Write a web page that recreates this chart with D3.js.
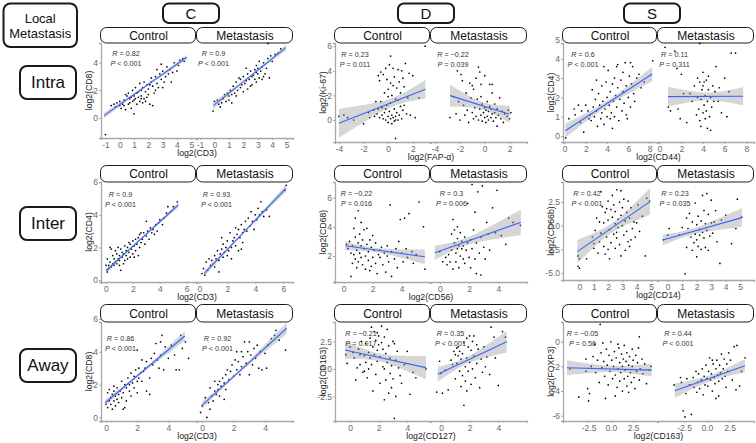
<!DOCTYPE html>
<html><head><meta charset="utf-8">
<script src="https://cdn.jsdelivr.net/npm/d3@7"></script>
<style>body{margin:0;background:#fff}svg{display:block;font-family:"Liberation Sans",Arial,Helvetica,sans-serif}</style>
</head><body><svg id="c" width="756" height="443"></svg>
<script>
// ---------------- DATA ----------------
const cornerLabel = ["Local", "Metastasis"];
const colLabels = ["C", "D", "S"];
const rowLabels = ["Intra", "Inter", "Away"];
const facetLabels = ["Control", "Metastasis"];
const xTitles = [["log2(CD3)", "log2(FAP-α)", "log2(CD44)"], ["log2(CD3)", "log2(CD56)", "log2(CD14)"], ["log2(CD3)", "log2(CD127)", "log2(CD163)"]];
const yTitles = [["log2(CD8)", "log2(Ki-67)", "log2(CD4)"], ["log2(CD4)", "log2(CD68)", "log2(CD66b)"], ["log2(CD8)", "log2(CD163)", "log2(FOXP3)"]];
// R and P labels [control, metastasis]
const statR = [[["0.82","0.9"],["0.23","−0.22"],["0.6","0.11"]],[["0.9","0.93"],["−0.22","0.3"],["0.42","0.23"]],[["0.86","0.92"],["−0.21","0.35"],["−0.05","0.44"]]];
const statP = [[["< 0.001","< 0.001"],["= 0.011","= 0.039"],["< 0.001","= 0.311"]],[["< 0.001","< 0.001"],["= 0.016","= 0.006"],["< 0.001","= 0.035"]],[["< 0.001","< 0.001"],["= 0.017","< 0.001"],["= 0.56","< 0.001"]]];
// tick values
const xTicks = [[[-1,0,1,2,3,4,5],[-4,-2,0,2],[0,2,4,6,8]],[[0,2,4,6],[0,2,4],[0,1,2,3,4,5]],[[0,2,4],[0,2,4],[-2.5,0,2.5]]];
const yTicks = [[[0,2,4],[0,2,4,6],[0,1,2,3,4,5]],[[0,2,4,6],[2,4,6],[-5,-2.5,0,2.5]],[[0,2,4,6],[-2.5,0,2.5],[-6,-4,-2,0]]];
const tickFmt = [[["d","d"],["d","d"],["d","d"]],[["d","d"],["d","d"],["d",".1f"]],[["d","d"],["d",".1f"],[".1f","d"]]]; // [x,y]
// axis domains (x: [control, metastasis])
const xDomains = [[[[-1.31,5.33],[-1.21,5.44]],[[-4.32,3.4],[-4.32,3.4]],[[-0.15,8.7],[-0.15,8.7]]],
                  [[[-0.37,6.69],[-0.16,6.69]],[[-0.6,5.95],[-0.6,5.95]],[[-1.15,5.42],[-0.67,5.95]]],
                  [[[-0.33,5.78],[-0.33,5.78]],[[-1.05,5.59],[-0.7,6.01]],[[-5.37,5.18],[-5.37,5.18]]]];
const yDomains = [[[-1.45,5.43],[-1.79,6.26],[-0.31,4.82]],[[-0.12,6.01],[0.22,7.07],[-5.75,4.62]],[[-0.22,5.81],[-4.73,4.27],[-6.43,1.6]]];

// scatter points
const ptsC1c = [[-1.0,-1.2],[-0.6,0.9],[-0.4,1.0],[-0.3,0.8],[-0.2,1.1],[0,0.9],[0.1,0.7],[0,1.2],[0.2,1.0],[0.3,1.3],[0.4,0.6],[0.5,1.6],[0.4,1.7],[0.6,1.0],[0.7,1.4],[0.8,1.5],[0.9,1.2],[1.0,1.6],[1.0,0.3],[1.1,1.4],[1.2,1.8],[1.3,1.5],[1.4,1.2],[1.5,2.0],[1.5,1.6],[1.6,2.2],[1.7,1.4],[1.8,1.9],[1.9,2.4],[2.0,1.7],[2.0,2.1],[2.1,1.0],[2.2,2.6],[2.3,2.3],[2.4,1.8],[2.5,3.0],[2.6,2.5],[2.7,2.2],[2.8,3.2],[2.9,2.8],[3.0,3.4],[3.1,2.6],[3.2,3.0],[3.3,3.7],[3.5,3.5],[3.6,2.6],[3.8,4.0],[4.0,3.4],[4.2,4.2],[4.4,4.3],[4.5,4.1],[1.2,1.0],[0.8,0.7],[1.6,1.1],[2.3,0.9],[1.1,2.2],[1.9,1.5],[1.4,2.5],[0.3,0.9],[0.9,2.0],[2.6,3.5],[3.0,2.2],[2.2,2.9],[1.7,2.6],[3.4,3.2],[0.6,1.8],[1.3,1.9],[1.8,1.2],[2.5,2.0],[4.1,3.8],[3.7,3.3],[2.9,3.9],[1.0,1.3],[1.5,1.4],[2.1,2.4],[0.7,1.1]];
const ptsC1m = [[-0.1,0.5],[0,1.2],[0.2,1.3],[0.3,1.0],[0.4,0.8],[0.5,1.1],[0.6,1.4],[0.8,1.2],[0.9,1.8],[1.0,1.3],[1.0,1.6],[1.1,2.0],[1.2,1.1],[1.3,2.3],[1.4,1.8],[1.5,2.6],[1.6,2.0],[1.7,2.9],[1.8,2.2],[1.9,2.4],[2.0,1.9],[2.0,3.0],[2.1,2.5],[2.2,2.7],[2.3,3.2],[2.3,2.1],[2.4,2.8],[2.5,3.4],[2.6,3.0],[2.6,2.4],[2.7,3.1],[2.8,3.5],[2.8,2.8],[2.9,3.3],[2.9,3.8],[3.0,3.2],[3.0,3.6],[3.1,2.9],[3.1,4.1],[3.2,3.4],[3.3,3.7],[3.3,2.8],[3.4,4.0],[3.5,3.2],[3.6,3.6],[3.7,4.3],[3.8,2.9],[3.9,4.5],[4.0,4.1],[4.2,4.6],[4.4,4.7],[4.6,5.0],[3.7,5.4],[1.5,1.6],[2.2,3.6],[1.8,2.8],[0.7,1.7],[2.5,2.3],[3.4,3.0],[2.9,2.6],[1.2,1.7]];
const ptsD1c = [[-4.0,0.3],[-3.6,0.4],[-3.3,0.2],[-2.8,0.0],[-2.0,-0.3],[-1.6,0.6],[-1.5,0.2],[-1.2,0.8],[-1.1,0.3],[-1.0,1.5],[-0.9,0.5],[-0.8,0.9],[-0.8,3.6],[-0.7,0.2],[-0.6,1.5],[-0.6,3.9],[-0.5,0.4],[-0.5,1.0],[-0.4,3.7],[-0.4,0.1],[-0.3,2.2],[-0.3,0.6],[-0.2,4.2],[-0.2,0.0],[-0.1,1.2],[-0.1,3.3],[0.0,0.3],[0.0,-0.2],[0.0,2.5],[0.1,0.7],[0.1,4.5],[0.2,0.1],[0.2,1.4],[0.2,3.0],[0.3,-0.3],[0.3,0.4],[0.3,2.0],[0.4,0.2],[0.4,4.2],[0.5,0.9],[0.5,-0.1],[0.5,3.5],[0.6,0.3],[0.6,1.7],[0.6,-1.5],[0.7,0.6],[0.7,2.6],[0.8,4.1],[0.8,0.0],[0.8,1.6],[0.9,3.1],[0.9,0.4],[1.0,1.1],[1.0,2.2],[1.1,0.1],[1.2,3.4],[1.2,0.8],[1.3,2.7],[1.4,4.6],[1.5,0.5],[1.6,1.8],[1.7,3.8],[1.8,0.4],[2.0,3.6],[2.2,0.2],[2.5,1.8],[3.0,6.0],[0.0,1.9],[-0.7,3.2],[0.4,2.8],[1.1,4.0],[0.2,5.2],[-0.2,0.9],[0.6,0.0],[1.3,1.2]];
const ptsD1m = [[-2.8,0.2],[-2.5,1.9],[-2.3,0.5],[-2.2,4.0],[-2.1,1.5],[-2.0,0.0],[-1.9,3.7],[-1.8,3.2],[-1.7,1.2],[-1.6,0.4],[-1.5,2.2],[-1.4,0.8],[-1.3,-0.2],[-1.2,3.0],[-1.1,1.8],[-1.0,0.6],[-0.9,2.5],[-0.9,0.1],[-0.8,1.0],[-0.7,3.4],[-0.7,0.3],[-0.6,1.7],[-0.5,4.3],[-0.5,0.0],[-0.4,3.9],[-0.4,0.9],[-0.3,2.9],[-0.3,0.4],[-0.2,1.3],[-0.2,-0.1],[-0.1,0.6],[0.0,0.2],[0.0,1.0],[0.0,3.6],[0.1,0.8],[0.1,-0.2],[0.2,0.3],[0.2,1.5],[0.3,0.7],[0.3,0.0],[0.4,1.1],[0.4,2.9],[0.5,0.2],[0.5,0.9],[0.6,0.5],[0.6,2.2],[0.7,-0.1],[0.8,0.6],[0.8,1.3],[0.9,0.2],[1.0,0.9],[1.0,-0.5],[1.1,0.4],[1.2,1.8],[1.3,0.1],[1.4,0.7],[1.5,-0.2],[1.6,0.5],[1.8,0.3],[1.9,0.8],[2.0,0.1],[2.1,0.6],[-1.0,2.8],[0.6,2.9],[-0.3,1.9]];
const ptsS1c = [[0.1,-0.1],[0.4,0.9],[0.9,1.4],[1.0,1.1],[1.3,1.6],[1.5,0.7],[1.8,0.2],[2.0,1.6],[2.2,1.3],[2.4,1.1],[2.5,0.8],[2.6,2.4],[2.7,1.5],[2.8,1.0],[2.9,1.9],[3.0,1.3],[3.1,0.5],[3.2,2.2],[3.3,1.6],[3.4,0.9],[3.5,1.2],[3.5,2.6],[3.6,1.8],[3.7,0.6],[3.8,1.4],[3.9,2.8],[4.0,1.0],[4.0,2.0],[4.1,3.4],[4.2,1.6],[4.3,0.9],[4.3,2.3],[4.4,1.2],[4.5,2.7],[4.5,0.4],[4.6,1.8],[4.7,3.0],[4.7,1.0],[4.8,2.1],[4.9,1.5],[5.0,3.7],[5.0,2.5],[5.1,0.8],[5.2,1.9],[5.3,2.9],[5.4,1.3],[5.5,2.3],[5.5,3.3],[5.6,1.7],[5.7,3.8],[5.8,2.6],[5.9,0.9],[6.0,2.0],[6.1,3.1],[6.2,1.5],[6.3,2.7],[6.4,3.6],[6.5,2.2],[6.6,1.8],[6.8,3.0],[7.0,3.2],[7.2,2.5],[7.5,2.8],[8.3,3.9],[3.7,3.6],[4.9,3.6],[2.3,0.9],[5.8,1.1],[6.2,3.8],[1.6,1.3],[3.0,2.9]];
const ptsS1m = [[0.5,4.6],[0.8,1.5],[1.0,1.3],[1.4,4.4],[1.6,3.5],[1.7,1.4],[1.9,0.9],[2.0,3.2],[2.2,2.2],[2.5,0.7],[2.8,2.2],[3.0,1.8],[3.2,2.6],[3.4,1.1],[3.5,3.0],[3.5,2.0],[3.6,1.4],[3.7,0.8],[3.7,2.8],[3.8,1.9],[3.8,0.5],[3.9,2.4],[4.0,1.2],[4.0,3.3],[4.1,2.8],[4.1,1.6],[4.2,0.9],[4.2,2.1],[4.3,2.9],[4.3,1.3],[4.4,0.4],[4.4,1.8],[4.5,2.4],[4.5,3.1],[4.6,1.0],[4.7,2.0],[4.7,0.3],[4.8,1.5],[4.9,2.6],[5.0,1.8],[5.1,2.3],[5.2,3.6],[5.4,1.8],[5.5,2.5],[5.7,1.2],[6.0,3.0],[6.2,1.0],[6.4,2.3],[6.6,4.3],[7.0,4.3],[3.7,4.8],[4.0,2.6]];
const ptsC2c = [[0.0,0.9],[0.1,0.5],[0.1,1.3],[0.2,0.7],[0.2,0.9],[0.3,2.0],[0.3,1.1],[0.4,0.8],[0.5,1.5],[0.5,1.0],[0.6,0.9],[0.6,1.3],[0.7,1.8],[0.7,1.1],[0.8,1.6],[0.8,1.0],[0.9,1.3],[0.9,2.0],[1.0,1.5],[1.0,1.2],[1.1,1.9],[1.1,0.6],[1.2,1.4],[1.2,1.7],[1.3,1.6],[1.4,1.2],[1.4,2.1],[1.5,1.8],[1.5,1.5],[1.6,1.3],[1.6,2.0],[1.7,1.7],[1.8,1.4],[1.8,2.2],[1.9,1.9],[2.0,2.4],[2.0,1.6],[2.1,2.1],[2.2,2.5],[2.2,1.8],[2.3,2.2],[2.4,2.6],[2.5,2.0],[2.5,2.8],[2.6,2.3],[2.7,2.5],[2.8,2.9],[2.9,2.2],[3.0,2.7],[3.1,3.0],[3.2,2.5],[3.3,3.2],[3.4,2.9],[3.5,3.1],[3.6,2.8],[3.7,3.4],[3.8,3.0],[3.9,3.5],[4.0,3.7],[4.2,3.4],[4.3,3.8],[4.5,4.1],[4.6,4.5],[4.8,4.2],[5.0,4.5],[5.3,4.8],[1.3,1.0],[2.4,1.5],[0.4,1.9],[1.7,2.3],[2.6,2.9],[3.0,3.6],[1.0,0.9],[2.1,1.4]];
const ptsC2m = [[0.2,0.4],[0.3,0.7],[0.4,0.3],[0.5,1.1],[0.6,0.6],[0.7,1.3],[0.8,0.9],[0.9,1.2],[1.0,1.0],[1.1,1.5],[1.2,1.3],[1.3,1.8],[1.4,1.2],[1.4,0.5],[1.5,1.6],[1.6,1.9],[1.7,1.4],[1.7,2.2],[1.8,1.7],[1.9,2.0],[2.0,1.5],[2.0,2.4],[2.1,1.8],[2.2,2.9],[2.3,2.0],[2.3,1.3],[2.4,2.4],[2.5,2.6],[2.6,2.1],[2.7,2.8],[2.8,1.8],[2.8,3.1],[2.9,2.6],[3.0,3.4],[3.1,2.9],[3.1,2.3],[3.2,3.1],[3.3,3.6],[3.4,3.0],[3.5,3.8],[3.6,3.3],[3.7,4.2],[3.8,3.6],[3.9,3.1],[4.0,4.0],[4.1,3.7],[4.2,4.4],[4.3,4.0],[4.4,4.8],[4.5,4.2],[4.6,3.9],[4.8,4.3],[5.0,3.9],[6.2,5.8],[6.1,5.5],[1.6,2.6],[2.6,3.2],[3.0,1.9],[1.1,0.8]];
const ptsD2c = [[0.2,2.8],[0.3,2.5],[0.4,3.0],[0.5,2.2],[0.5,0.6],[0.6,2.7],[0.6,1.5],[0.7,3.9],[0.7,2.1],[0.8,4.6],[0.8,1.8],[0.8,3.3],[0.9,2.4],[0.9,1.2],[1.0,5.1],[1.0,2.9],[1.0,1.6],[1.1,3.5],[1.1,2.2],[1.2,4.3],[1.2,1.9],[1.2,2.7],[1.3,3.1],[1.3,1.4],[1.4,2.5],[1.4,3.8],[1.5,2.0],[1.5,1.1],[1.6,3.9],[1.6,2.8],[1.7,1.7],[1.7,2.3],[1.8,3.1],[1.8,1.0],[1.9,2.6],[2.0,1.9],[2.0,3.4],[2.1,2.4],[2.2,1.5],[2.2,2.9],[2.3,0.8],[2.4,2.1],[2.5,1.9],[2.6,2.6],[2.7,1.4],[2.8,2.2],[2.9,0.9],[3.0,2.7],[3.1,1.6],[3.2,5.5],[3.3,2.3],[3.3,0.6],[3.5,1.8],[3.6,2.5],[3.7,1.2],[3.8,3.0],[3.9,4.5],[4.0,2.2],[4.1,1.6],[4.2,4.6],[4.3,2.5],[4.4,1.9],[4.5,4.9],[4.7,2.3],[4.8,1.5],[5.0,2.1],[5.2,5.7],[5.5,4.0],[5.6,1.1],[1.9,1.3],[3.0,2.0],[2.5,2.4]];
const ptsD2m = [[0.0,2.3],[0.2,1.6],[0.4,1.9],[0.5,1.4],[0.6,2.1],[0.7,1.6],[0.8,3.5],[0.8,2.4],[0.9,4.5],[0.9,1.1],[1.0,2.9],[1.0,3.8],[1.1,2.2],[1.1,1.6],[1.2,3.2],[1.2,4.0],[1.3,2.7],[1.3,1.2],[1.4,3.6],[1.4,2.0],[1.5,2.5],[1.5,3.0],[1.6,1.8],[1.6,2.7],[1.7,3.3],[1.7,1.5],[1.8,2.4],[1.9,5.6],[1.9,2.9],[2.0,1.9],[2.1,3.1],[2.1,1.2],[2.2,2.5],[2.3,3.8],[2.4,5.0],[2.4,1.8],[2.5,2.9],[2.5,0.8],[2.6,6.4],[2.7,2.2],[2.8,3.3],[2.8,0.7],[2.9,6.8],[3.0,2.6],[3.1,1.8],[3.2,4.3],[3.3,3.5],[3.4,2.4],[3.6,5.3],[3.8,3.6],[3.9,6.5],[4.2,3.4],[4.5,2.8],[4.7,4.6],[5.0,4.3],[5.5,4.1],[2.2,6.9],[1.2,2.5]];
const ptsS2c = [[-0.1,-3.2],[-0.1,-4.3],[0.0,-3.5],[0.0,-4.5],[0.5,-3.5],[0.9,-1.2],[1.0,-2.4],[1.1,-0.5],[1.2,0.8],[1.3,-2.9],[1.4,-1.7],[1.5,3.6],[1.5,-0.8],[1.6,2.0],[1.7,-2.2],[1.7,0.3],[1.8,1.4],[1.8,-3.0],[1.9,-1.2],[2.0,2.6],[2.0,0.6],[2.0,-2.5],[2.1,-0.4],[2.2,1.7],[2.2,-1.8],[2.3,0.9],[2.3,3.2],[2.4,-0.9],[2.4,2.2],[2.5,-2.4],[2.5,0.2],[2.5,1.5],[2.6,3.8],[2.6,-1.3],[2.7,0.7],[2.7,-0.2],[2.8,2.5],[2.8,-2.0],[2.9,1.1],[2.9,-3.2],[3.0,0.0],[3.0,1.9],[3.1,-1.0],[3.1,2.8],[3.2,0.5],[3.2,-2.6],[3.3,1.4],[3.3,-0.6],[3.4,2.6],[3.4,-1.7],[3.5,0.8],[3.5,-2.2],[3.6,1.9],[3.7,-0.3],[3.8,0.4],[3.9,-1.2],[4.0,0.3],[4.1,2.2],[4.2,-0.6],[4.4,1.0],[4.6,-3.2],[4.7,2.9],[4.9,2.6],[1.0,-1.9],[1.4,0.4],[2.1,-3.5],[2.9,3.7],[3.6,-1.5],[1.9,1.8],[2.6,-0.7]];
const ptsS2m = [[-0.3,-1.5],[0.0,-1.0],[0.1,-0.3],[0.8,-1.0],[1.0,-0.2],[1.2,-5.1],[1.3,0.8],[1.4,-0.3],[1.5,1.3],[1.6,-1.2],[1.7,-2.6],[1.7,0.4],[1.8,-1.8],[1.9,2.4],[1.9,-0.9],[2.0,0.1],[2.0,-1.5],[2.1,-2.2],[2.1,1.0],[2.2,-0.4],[2.2,-1.0],[2.3,0.5],[2.3,-2.5],[2.4,-0.7],[2.4,3.2],[2.5,1.6],[2.5,-1.3],[2.6,-2.3],[2.6,0.2],[2.7,-0.5],[2.8,1.2],[2.8,-2.6],[2.9,-1.1],[3.0,2.7],[3.0,0.3],[3.1,-0.8],[3.2,0.4],[3.4,-1.7],[3.6,-4.0],[3.7,0.6],[4.0,1.1],[4.4,-1.9],[4.8,2.8],[4.7,-0.3],[5.1,0.9],[1.3,-2.3],[2.7,3.4],[3.3,1.6],[2.0,-3.3]];
const ptsC3c = [[0.0,0.8],[0.1,1.5],[0.1,0.6],[0.2,1.0],[0.2,1.7],[0.3,1.2],[0.3,0.8],[0.4,1.4],[0.4,0.5],[0.5,1.0],[0.5,1.6],[0.5,1.9],[0.6,1.3],[0.6,0.7],[0.7,1.1],[0.7,1.8],[0.8,1.4],[0.8,0.9],[0.9,1.6],[1.0,2.2],[1.0,1.2],[1.1,1.5],[1.2,0.6],[1.2,2.0],[1.3,1.8],[1.3,1.0],[1.4,2.4],[1.5,1.6],[1.5,2.0],[1.6,2.7],[1.6,1.3],[1.7,2.1],[1.8,1.8],[1.8,2.5],[1.9,2.9],[2.0,2.2],[2.0,1.5],[2.1,3.0],[2.1,2.4],[2.2,2.7],[2.3,2.2],[2.3,3.5],[2.4,2.8],[2.5,3.0],[2.6,3.4],[2.8,2.4],[2.8,1.4],[2.9,3.6],[3.0,3.2],[3.1,3.9],[3.2,4.5],[3.3,3.5],[3.4,3.0],[3.5,3.8],[3.5,4.6],[3.6,5.0],[3.7,2.9],[3.8,4.3],[4.0,3.6],[4.2,4.4],[4.4,3.8],[4.5,2.9],[4.7,2.9],[4.8,5.0],[4.9,4.2],[5.1,4.6],[5.3,3.6],[2.0,4.1],[2.6,1.6],[1.1,0.5]];
const ptsC3m = [[-0.1,0.3],[0.0,0.7],[0.2,1.2],[0.3,0.0],[0.4,0.9],[0.5,0.5],[0.6,1.3],[0.7,1.0],[0.8,2.2],[0.8,1.6],[0.9,1.4],[1.0,2.0],[1.0,1.7],[1.1,2.2],[1.1,1.3],[1.2,1.9],[1.3,2.4],[1.4,2.1],[1.5,2.6],[1.5,1.7],[1.6,2.9],[1.7,2.3],[1.8,2.8],[1.9,3.2],[2.0,2.5],[2.1,3.5],[2.2,2.9],[2.3,3.4],[2.4,2.6],[2.5,4.0],[2.5,3.1],[2.6,3.7],[2.7,4.6],[2.8,3.3],[2.9,4.0],[3.0,4.6],[3.0,2.6],[3.1,3.8],[3.2,3.2],[3.3,4.2],[3.4,3.6],[3.5,4.4],[3.6,3.0],[3.7,4.0],[3.8,2.9],[4.0,3.9],[4.1,3.0],[4.2,4.4],[4.4,4.8],[4.6,5.0],[4.7,5.3],[4.9,4.7],[5.3,4.1],[1.4,1.1],[2.2,4.0],[0.5,1.8]];
const ptsD3c = [[-0.3,1.3],[-0.2,0.5],[0.0,2.0],[0.2,1.5],[0.3,1.0],[0.4,-1.0],[0.5,0.1],[0.6,1.8],[0.7,0.4],[0.8,2.5],[0.9,-0.3],[1.0,1.2],[1.1,0.6],[1.1,2.3],[1.2,-0.8],[1.3,1.5],[1.3,0.0],[1.4,2.8],[1.4,1.0],[1.5,3.8],[1.5,0.4],[1.6,2.0],[1.6,-2.0],[1.7,3.4],[1.7,1.3],[1.8,2.6],[1.8,-0.5],[1.9,1.7],[1.9,0.7],[2.0,3.0],[2.0,2.2],[2.1,1.1],[2.1,-1.3],[2.2,3.9],[2.2,2.4],[2.3,0.2],[2.3,1.8],[2.4,-2.8],[2.4,2.9],[2.5,1.4],[2.5,-1.0],[2.6,3.6],[2.6,0.6],[2.7,2.1],[2.7,-2.2],[2.8,1.0],[2.8,-0.4],[2.9,0.3],[2.9,-1.7],[3.0,2.5],[3.0,-0.9],[3.1,-4.5],[3.2,0.8],[3.2,-2.5],[3.3,1.6],[3.4,0.1],[3.5,-0.6],[3.6,-1.3],[3.8,0.4],[4.0,1.6],[4.2,-2.3],[4.4,-0.3],[4.6,-0.8],[5.3,0.0],[1.9,3.3],[2.4,0.0],[3.1,2.3],[1.0,-0.2],[0.7,1.3]];
const ptsD3m = [[-0.3,-2.1],[-0.1,0.7],[0.0,-0.4],[0.1,-2.2],[0.3,-0.1],[0.5,-1.9],[0.7,0.8],[0.8,0.4],[0.9,1.6],[1.0,1.3],[1.0,-0.9],[1.1,1.9],[1.1,0.5],[1.2,1.2],[1.2,2.0],[1.3,-0.2],[1.3,1.6],[1.4,0.9],[1.4,-1.6],[1.5,1.4],[1.5,-0.6],[1.6,-3.3],[1.6,2.4],[1.7,0.2],[1.7,-1.1],[1.8,1.0],[1.8,-2.0],[1.9,2.0],[1.9,-0.2],[2.0,3.0],[2.0,0.6],[2.1,1.7],[2.1,-1.4],[2.2,2.5],[2.2,0.0],[2.3,1.2],[2.4,-0.8],[2.5,2.2],[2.5,0.5],[2.6,1.8],[2.7,-1.7],[2.8,0.9],[2.9,-0.3],[3.0,2.0],[3.1,0.2],[3.2,1.1],[3.4,-0.5],[3.7,2.9],[3.8,1.0],[4.0,-1.5],[4.3,3.4],[4.5,2.9],[3.5,3.8],[2.3,3.0],[1.8,2.8]];
const ptsS3c = [[-4.6,-2.2],[-3.6,-4.5],[-2.8,-1.4],[-2.6,-3.8],[-2.5,-4.8],[-2.4,-4.2],[-2.2,-2.0],[-2.0,-1.2],[-1.8,-0.2],[-1.7,-2.5],[-1.5,-1.5],[-1.3,-3.3],[-1.1,-0.9],[-1.0,-2.1],[-0.9,-0.1],[-0.8,-1.6],[-0.7,-2.8],[-0.5,-0.6],[-0.4,-1.9],[-0.3,-3.5],[-0.2,-1.1],[-0.1,-2.4],[0.0,0.0],[0.1,-1.5],[0.2,-3.0],[0.3,-2.0],[0.4,-0.8],[0.5,-4.4],[0.5,-2.7],[0.6,-1.3],[0.7,-3.7],[0.8,-2.2],[0.9,-0.5],[1.0,-1.7],[1.0,-3.2],[1.1,-2.5],[1.2,-1.0],[1.3,-4.0],[1.3,-2.0],[1.4,-1.4],[1.5,-3.0],[1.5,-0.3],[1.6,-2.3],[1.7,-1.6],[1.8,-3.6],[1.8,-0.9],[1.9,-2.8],[2.0,-1.9],[2.0,-4.1],[2.1,-1.2],[2.2,-2.5],[2.3,-3.3],[2.4,-0.6],[2.4,-2.0],[2.5,-1.5],[2.6,-2.9],[2.7,-3.8],[2.8,-1.1],[2.9,-2.4],[3.0,-1.7],[3.1,-0.5],[3.2,-3.1],[3.3,-2.2],[3.5,-1.4],[3.6,-2.6],[3.8,-1.8],[4.0,-3.4],[4.3,-2.3],[4.5,-2.0],[3.2,0.4],[-1.2,1.4],[-0.6,-4.6],[-2.8,-2.4],[0.8,-0.2]];
const ptsS3m = [[-3.6,-3.5],[-2.9,-2.9],[-2.8,-3.3],[-2.6,-5.6],[-2.4,-6.1],[-2.3,-4.2],[-2.2,-3.0],[-1.9,-3.5],[-1.7,-5.9],[-1.5,-2.9],[-1.4,-3.7],[-1.2,-2.4],[-1.1,-4.1],[-1.0,-3.3],[-0.9,-2.6],[-0.8,-3.8],[-0.6,-3.1],[-0.5,-2.2],[-0.4,-4.3],[-0.3,-2.8],[-0.2,-3.5],[-0.1,-1.9],[0.0,-3.0],[0.1,-3.6],[0.2,-2.4],[0.3,-1.3],[0.4,-3.1],[0.5,-2.6],[0.6,-4.0],[0.7,-1.8],[0.8,-2.9],[0.9,-3.4],[1.0,-2.2],[1.1,-1.5],[1.2,-2.7],[1.3,-4.4],[1.3,-3.2],[1.4,-1.9],[1.5,-2.5],[1.6,-1.0],[1.7,-3.0],[1.8,-2.2],[1.9,-1.4],[2.0,-2.8],[2.1,-3.7],[2.2,-1.8],[2.3,-2.4],[2.4,-0.9],[2.6,-1.5],[2.8,-3.1],[3.0,-0.4],[3.2,-3.9],[3.3,-0.3],[3.6,-3.6],[3.8,-2.4],[4.2,-1.3],[0.6,-1.5],[1.0,-4.6]];

// linear fits: [x0, y0, x1, y1, band half-width at x0, minimum half-width, half-width at x1]
const fitC1c = [-1.1,0.17,4.68,4.4,0.2,0.08,0.18];
const fitC1m = [-0.08,0.89,4.95,5.09,0.25,0.08,0.22];
const fitD1c = [-4,-0.27,3.03,2.5,1.18,0.35,0.76];
const fitD1m = [-2.79,1.98,2.0,0.46,0.88,0.3,0.7];
const fitS1c = [0.07,0.27,8.25,3.21,0.36,0.14,0.37];
const fitS1m = [0.77,2.04,7.7,2.06,0.52,0.2,0.47];
const fitC2c = [0,0.57,5.37,4.6,0.15,0.05,0.15];
const fitC2m = [0.36,0.41,6.19,5.62,0.18,0.07,0.22];
const fitD2c = [0.11,2.7,5.59,1.95,0.3,0.15,0.5];
const fitD2m = [-0.34,2.23,5.53,4.31,0.48,0.25,0.87];
const fitS2c = [-0.15,-2.75,4.93,2.54,1.24,0.5,1.4];
const fitS2m = [-0.34,-1.51,5.12,0.85,0.58,0.3,1.0];
const fitC3c = [-0.06,0.89,5.06,4.96,0.2,0.08,0.3];
const fitC3m = [0,0.75,5.38,5.43,0.22,0.09,0.35];
const fitD3c = [-0.35,1.73,5.31,0.12,0.8,0.35,1.06];
const fitD3m = [-0.23,-0.48,4.59,2.48,0.67,0.3,0.98];
const fitS3c = [-4.92,-2.11,4.59,-2.3,0.61,0.25,0.53];
const fitS3m = [-3.52,-3.97,4.18,-1.95,0.58,0.25,0.54];

const points = [[[ptsC1c,ptsC1m],[ptsD1c,ptsD1m],[ptsS1c,ptsS1m]],[[ptsC2c,ptsC2m],[ptsD2c,ptsD2m],[ptsS2c,ptsS2m]],[[ptsC3c,ptsC3m],[ptsD3c,ptsD3m],[ptsS3c,ptsS3m]]];
const fits = [[[fitC1c,fitC1m],[fitD1c,fitD1m],[fitS1c,fitS1m]],[[fitC2c,fitC2m],[fitD2c,fitD2m],[fitS2c,fitS2m]],[[fitC3c,fitC3m],[fitD3c,fitD3m],[fitS3c,fitS3m]]];

// ---------------- LAYOUT ----------------
const colPanels = [[101,196,197,293],[335,430,431,527],[563,657,658,754]];
const rowStrip = [[27,43],[165,182],[304,322]];
const panelBottom = [[138,142,142],[282,282,280],[421,421,421]];
const labelDx = [[[25,16.5],[20,22],[20,16.5]],[[19.5,19.5],[21.5,20.5],[24,17]],[[19.5,20.5],[26,19.5],[19.5,20]]];
const labelDy = [[9.5,11,11],[11.5,11,11],[15.5,11,10.5]];
const headerX = [163,398,624];
const rowBoxY = [66,207,349];

const loc = d3.formatLocale({decimal:".", thousands:",", grouping:[3], currency:["",""], minus:"-"});
const svg = d3.select("#c");
const narrow = '"Liberation Sans Narrow","Liberation Sans",Arial,sans-serif';

// corner label
svg.append("rect").attr("x",3.5).attr("y",3.5).attr("width",73.5).attr("height",43.5).attr("rx",7)
  .attr("fill","#fff").attr("stroke","#1a1a1a").attr("stroke-width",2);
cornerLabel.forEach((t,i)=>svg.append("text").attr("x",40.2).attr("y",18.5+i*15).attr("text-anchor","middle")
  .attr("dominant-baseline","central").attr("font-size",13).attr("fill","#111").text(t));

// row labels
rowLabels.forEach((t,i)=>{
  svg.append("rect").attr("x",20).attr("y",rowBoxY[i]).attr("width",56).attr("height",33).attr("rx",7)
    .attr("fill","#fff").attr("stroke","#1a1a1a").attr("stroke-width",2);
  svg.append("text").attr("x",48).attr("y",rowBoxY[i]+16.8).attr("text-anchor","middle")
    .attr("dominant-baseline","central").attr("font-size",17).attr("fill","#111").text(t);
});
// column headers
colLabels.forEach((t,i)=>{
  svg.append("rect").attr("x",headerX[i]).attr("y",3.5).attr("width",56).attr("height",19.5).attr("rx",6)
    .attr("fill","#fff").attr("stroke","#1a1a1a").attr("stroke-width",2);
  svg.append("text").attr("x",headerX[i]+28).attr("y",13.5).attr("text-anchor","middle")
    .attr("dominant-baseline","central").attr("font-size",15).attr("fill","#111").text(t);
});

for (let r=0;r<3;r++){
  for (let c=0;c<3;c++){
    const [sTop,pTop] = rowStrip[r];
    const pBot = panelBottom[r][c];
    const y = d3.scaleLinear().domain(yDomains[r][c]).range([pBot,pTop]);
    const cp = colPanels[c];
    const g = svg.append("g");
    for (let k=0;k<2;k++){
      const left = cp[k*2], right = cp[k*2+1];
      const x = d3.scaleLinear().domain(xDomains[r][c][k]).range([left,right]);
      const pts = points[r][c][k];
      const f = fits[r][c][k];
      // strip
      g.append("rect").attr("x",left-0.5).attr("y",sTop+0.5).attr("width",right-left).attr("height",pTop-sTop-0.5)
        .attr("rx",6).attr("fill","#fff").attr("stroke","#1a1a1a").attr("stroke-width",1);
      g.append("text").attr("x",(left+right)/2).attr("y",(sTop+pTop)/2+0.5).attr("text-anchor","middle")
        .attr("dominant-baseline","central").attr("font-size",12).attr("fill","#111").text(facetLabels[k]);
      // points
      g.append("g").selectAll("circle").data(pts).join("circle")
        .attr("cx",d=>x(d[0])).attr("cy",d=>y(d[1])).attr("r",0.85).attr("fill","#000");
      // confidence band
      const [x0,y0,x1,y1,wL,wM,wR] = f;
      const slope = (y1-y0)/(x1-x0);
      const ratio = Math.sqrt(Math.max(wL*wL-wM*wM,0)/Math.max(wR*wR-wM*wM,1e-9));
      const xc = (x0+ratio*x1)/(1+ratio);
      const kk = (xc-x0)!==0 ? (wL*wL-wM*wM)/((xc-x0)*(xc-x0)) : (wR*wR-wM*wM)/((x1-xc)*(x1-xc));
      const xs = d3.range(0,41).map(i=>x0+(x1-x0)*i/40);
      const band = xs.map(xv=>{const yv=y0+slope*(xv-x0);const w=Math.sqrt(wM*wM+kk*(xv-xc)*(xv-xc));return [xv,yv-w,yv+w];});
      g.append("path").datum(band).attr("d",d3.area().x(d=>x(d[0])).y0(d=>y(d[1])).y1(d=>y(d[2])))
        .attr("fill","#999999").attr("fill-opacity",0.4);
      g.append("line").attr("x1",x(x0)).attr("y1",y(y0)).attr("x2",x(x1)).attr("y2",y(y1))
        .attr("stroke","#3366FF").attr("stroke-width",1.1);
      // x axis
      const xa = g.append("g").attr("transform",`translate(0,${pBot})`)
        .call(d3.axisBottom(x).tickValues(xTicks[r][c]).tickSizeOuter(0).tickSize(2).tickPadding(1.5).tickFormat(loc.format(tickFmt[r][c][0])));
      xa.select(".domain").attr("stroke","#a8a8a8").attr("stroke-width",1.3);
      xa.selectAll(".tick line").attr("stroke","#a8a8a8");
      xa.selectAll("text").attr("font-size",8.5).attr("fill","#6a6a6a").attr("font-family",null);
      if (k===0){
        const ya = g.append("g").attr("transform",`translate(${left},0)`)
          .call(d3.axisLeft(y).tickValues(yTicks[r][c]).tickSizeOuter(0).tickSize(2).tickPadding(1).tickFormat(loc.format(tickFmt[r][c][1])));
        ya.select(".domain").attr("stroke","#a8a8a8").attr("stroke-width",1.3);
        ya.selectAll(".tick line").attr("stroke","#a8a8a8");
        ya.selectAll("text").attr("font-size",8.5).attr("fill","#6a6a6a").attr("font-family",null);
      }
      // stat labels
      const lx = left + labelDx[r][c][k];
      const ly = pTop + labelDy[r][c];
      const tR = g.append("text").attr("x",lx).attr("y",ly).attr("text-anchor","middle").attr("dominant-baseline","central")
        .attr("font-size",7.2).attr("font-family",narrow).attr("fill","#333");
      tR.append("tspan").attr("font-style","italic").text("R");
      tR.append("tspan").text(" = "+statR[r][c][k]);
      const tP = g.append("text").attr("x",lx).attr("y",ly+10.2).attr("text-anchor","middle").attr("dominant-baseline","central")
        .attr("font-size",7.2).attr("font-family",narrow).attr("fill","#333");
      tP.append("tspan").attr("font-style","italic").text("P");
      tP.append("tspan").text(" "+statP[r][c][k]);
    }
    // axis titles
    g.append("text").attr("x",(cp[0]+cp[3])/2).attr("y",pBot+15).attr("text-anchor","middle")
      .attr("dominant-baseline","central").attr("font-size",8.7).attr("fill","#222").text(xTitles[r][c]);
    const yc = (pTop+pBot)/2;
    g.append("text").attr("transform",`translate(${cp[0]-12.5},${yc}) rotate(-90)`).attr("text-anchor","middle")
      .attr("dominant-baseline","central").attr("font-size",8.7).attr("fill","#222").text(yTitles[r][c]);
  }
}
</script></body></html>
